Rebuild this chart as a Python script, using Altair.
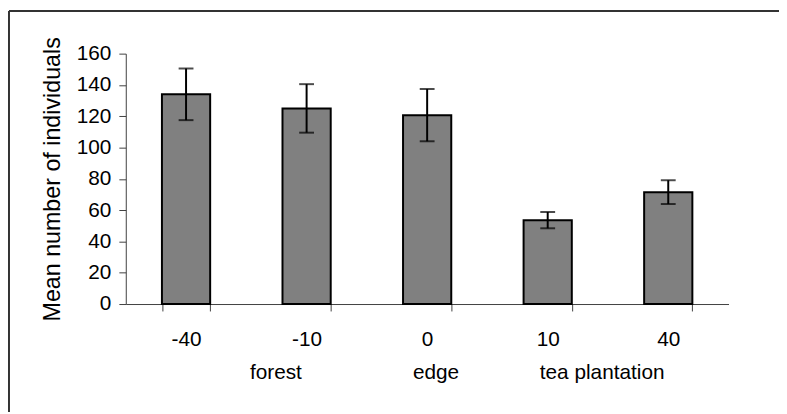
import altair as alt
import pandas as pd

categories = ["-40", "-10", "0", "10", "40"]
means = [134.0, 125.0, 120.7, 53.6, 71.5]
errors = [16.5, 15.5, 16.7, 5.2, 7.6]
groups = ["forest", "edge", "tea plantation"]
group_anchor = ["-10", "0", "10"]
y_ticks = [0, 20, 40, 60, 80, 100, 120, 140, 160]

df = pd.DataFrame({
    "cat": categories,
    "mean": means,
    "lo": [m - e for m, e in zip(means, errors)],
    "hi": [m + e for m, e in zip(means, errors)],
})
gdf = pd.DataFrame({"group": groups, "anchor": group_anchor})
one = pd.DataFrame({"k": [0]})

W, H = 609, 253
FONT = "Liberation Sans"

xscale = alt.Scale(domain=categories, paddingInner=0.6, paddingOuter=0.3)
xaxis = alt.Axis(title=None, labelAngle=0, tickBand="extent", tickSize=7,
                 labelPadding=18, labelFontSize=21, labelFont=FONT,
                 labelColor="black", domainColor="#404040", tickColor="#404040",
                 domainWidth=1, tickWidth=1, grid=False, labelOverlap=False)
yscale = alt.Scale(domain=[0, 160], nice=False)
yaxis = alt.Axis(title="Mean number of individuals", values=y_ticks,
                 tickSize=7, labelPadding=8, labelFontSize=21, labelFont=FONT,
                 labelColor="black", titleFont=FONT, titleFontSize=23.5,
                 titleFontWeight="normal", titleColor="black", titlePadding=12,
                 labelOverlap=False, labelBound=False,
                 domainColor="#404040", tickColor="#404040", grid=False)

xe = alt.X("cat:N", scale=xscale, axis=xaxis)

base = alt.Chart(df)

bars = base.mark_bar(color="#808080", stroke="black", strokeWidth=2).encode(
    x=xe, y=alt.Y("mean:Q", scale=yscale, axis=yaxis))

rules = base.mark_rule(color="black", strokeWidth=2).encode(
    x=xe, y=alt.Y("lo:Q", scale=yscale, axis=yaxis), y2="hi:Q")
caps_lo = base.mark_tick(color="black", thickness=2, size=15, orient="horizontal").encode(
    x=xe, y=alt.Y("lo:Q", scale=yscale, axis=yaxis))
caps_hi = base.mark_tick(color="black", thickness=2, size=15, orient="horizontal").encode(
    x=xe, y=alt.Y("hi:Q", scale=yscale, axis=yaxis))

dxs = [-31, 9, 55]
glabels = [
    alt.Chart(gdf).transform_filter(alt.datum.group == g).mark_text(
        fontSize=21, font=FONT, fontWeight="normal", color="black",
        baseline="middle", dx=d).encode(
        x=alt.X("anchor:N", scale=xscale, axis=xaxis),
        y=alt.value(323), text="group:N")
    for g, d in zip(groups, dxs)
]

frame_left = alt.Chart(one).mark_rule(color="#333333", strokeWidth=2).encode(
    x=alt.value(-118), y=alt.value(-43), y2=alt.value(H + 109))
frame_top = alt.Chart(one).mark_rule(color="#333333", strokeWidth=2).encode(
    y=alt.value(-43), x=alt.value(-118), x2=alt.value(W + 51))

chart = alt.layer(bars, rules, caps_lo, caps_hi, *glabels, frame_left, frame_top).properties(
    width=W, height=H,
    autosize=alt.AutoSizeParams(type="none"),
    padding={"left": 119, "top": 44, "right": 51, "bottom": 109},
).configure(background="white", view=alt.ViewConfig(stroke=None))

chart.save("out.html", embed_options={"renderer": "svg", "actions": False})
